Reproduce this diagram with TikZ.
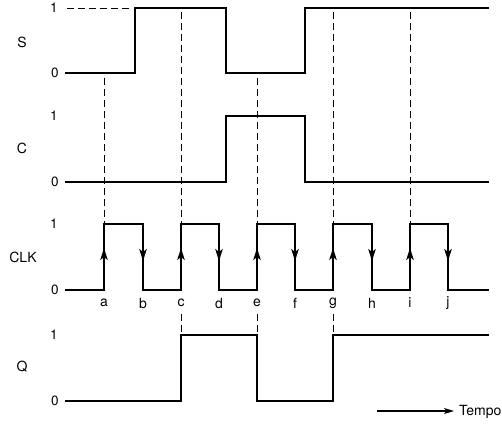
\documentclass[tikz,border=0pt]{standalone}
\usepackage{fontspec}
\setmainfont{TeX Gyre Heros}
\usetikzlibrary{arrows.meta,positioning}
\begin{document}
\begin{tikzpicture}[x=1pt,y=-1pt,>=Latex,
wave/.style={line width=1.8pt,line join=miter},
guide/.style={dash pattern=on 7pt off 4pt,line width=1pt},
sig/.style={font=\fontsize{14}{16}\selectfont,inner sep=0pt},
lvl/.style={font=\fontsize{13.5}{16}\selectfont,inner sep=0pt},
tick/.style={-{Stealth[length=12pt,width=7.5pt,inset=3pt]},line width=1.8pt}]
\useasboundingbox (0,0) rectangle (502,431);
% signal names
\node[sig] (nameS) at (22,42) {S};
\node[sig] (nameC) at (22,148) {C};
\node[sig] (nameCLK) at (23,257) {CLK};
\node[sig] (nameQ) at (22,367) {Q};
% logic levels
\node[lvl] (s1) at (54,8) {1};
\node[lvl] (s0) at (55,73) {0};
\node[lvl] (c1) at (54,116) {1};
\node[lvl] (c0) at (55,182) {0};
\node[lvl] (k1) at (54,224) {1};
\node[lvl] (k0) at (55,290) {0};
\node[lvl] (q1) at (54,335) {1};
\node[lvl] (q0) at (55,401) {0};
% clock edges
\node[sig] (ea) at (104,303) {a};
\node[sig] (eb) at (143,303) {b};
\node[sig] (ec) at (181,303) {c};
\node[sig] (ed) at (219,303) {d};
\node[sig] (ee) at (257,303) {e};
\node[sig] (ef) at (295,303) {f};
\node[sig] (eg) at (333,303) {g};
\node[sig] (eh) at (372,303) {h};
\node[sig] (ei) at (410,303) {i};
\node[sig] (ej) at (448,303) {j};
% waveforms
\draw[guide] (67,8) -- (131,8);
\draw[wave] (65,73) -- (135,73) -- (135,8) -- (226,8) -- (226,73) -- (305,73) -- (305,8) -- (489,8);
\draw[wave] (65,182) -- (226,182) -- (226,116) -- (305,116) -- (305,182) -- (489,182);
\draw[wave] (65,290) -- (104,290) -- (104,224) -- (143,224) -- (143,290) -- (181,290) -- (181,224) -- (219,224) -- (219,290)
  -- (257,290) -- (257,224) -- (295,224) -- (295,290) -- (333,290) -- (333,224) -- (372,224) -- (372,290)
  -- (410,290) -- (410,224) -- (448,224) -- (448,290) -- (489,290);
\draw[wave] (65,401) -- (181,401) -- (181,335) -- (257,335) -- (257,401) -- (333,401) -- (333,335) -- (489,335);
% edge arrows
\draw[tick] (104,290) -- (104,248);
\draw[tick] (181,290) -- (181,248);
\draw[tick] (257,290) -- (257,248);
\draw[tick] (333,290) -- (333,248);
\draw[tick] (410,290) -- (410,248);
\draw[tick] (143,224) -- (143,261);
\draw[tick] (219,224) -- (219,261);
\draw[tick] (295,224) -- (295,261);
\draw[tick] (372,224) -- (372,261);
\draw[tick] (448,224) -- (448,261);
% sampling guides
\draw[guide] (104,78) -- (104,224);
\draw[guide] (181,12) -- (181,224);
\draw[guide] (257,78) -- (257,224);
\draw[guide] (333,12) -- (333,224);
\draw[guide] (410,12) -- (410,224);
\draw[guide] (181,314) -- (181,335);
\draw[guide] (257,314) -- (257,335);
\draw[guide] (333,314) -- (333,335);
% time axis
\node[sig,anchor=west] (tempo) at (459,412) {Tempo};
\coordinate (t0) at (377,411);
\draw[-{Stealth[length=10pt,width=6pt,inset=2.5pt]},line width=1.2pt,shorten >=5pt] (t0) -- (t0 -| tempo.west);
\end{tikzpicture}
\end{document}
